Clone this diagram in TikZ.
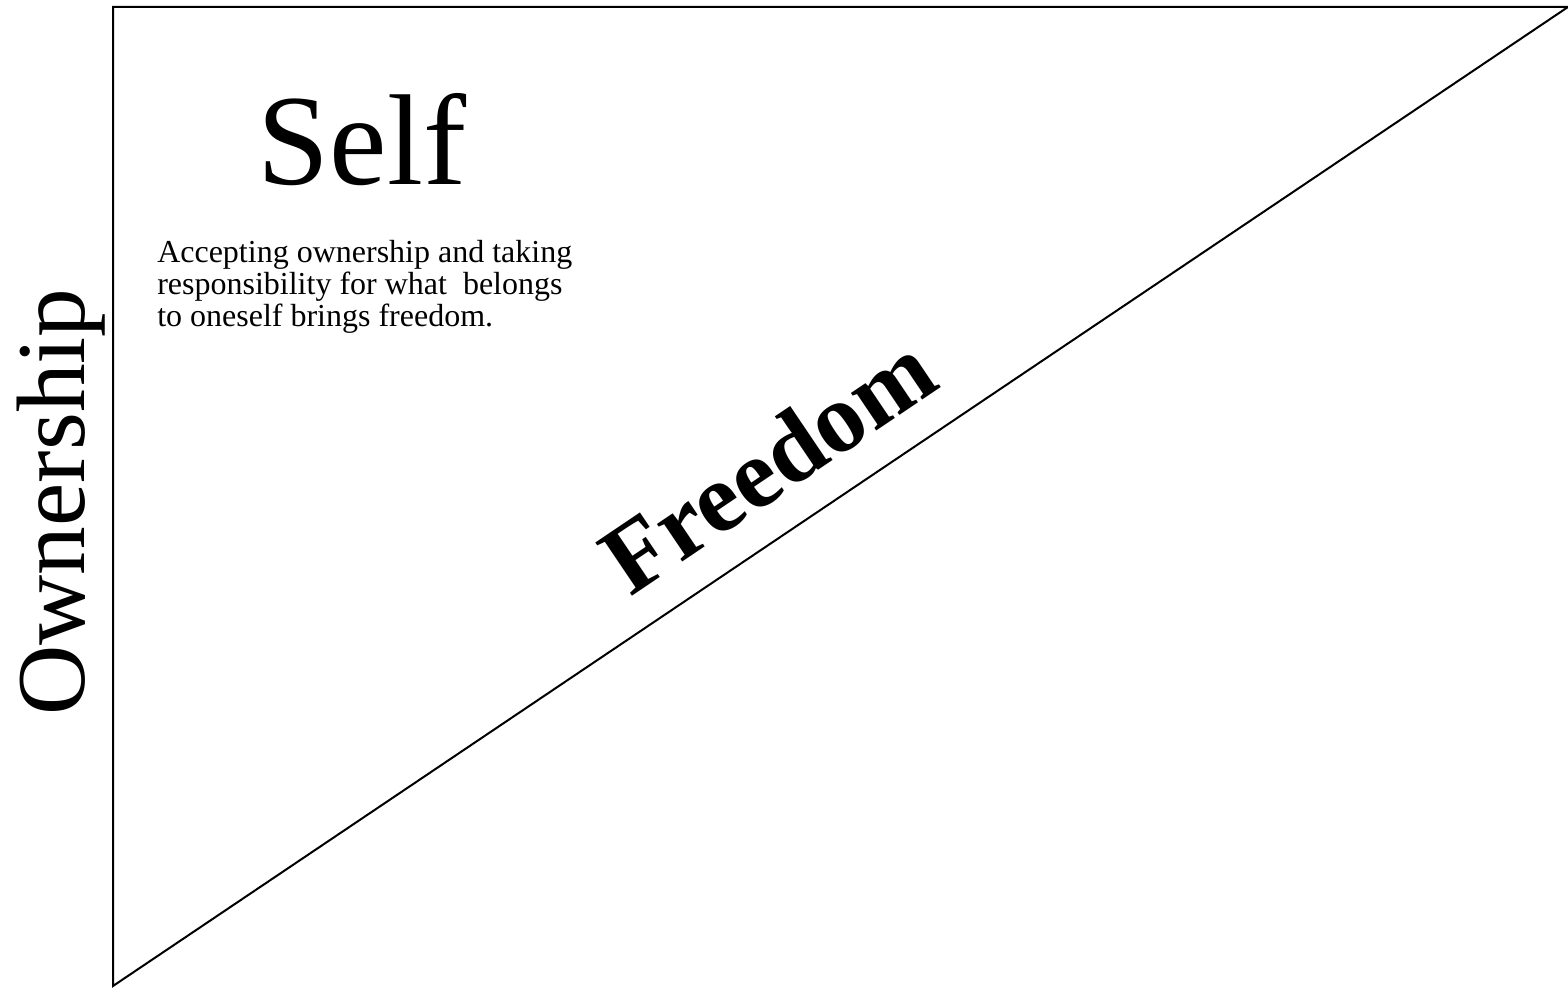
\documentclass[tikz,border=0pt]{standalone}
\usepackage{fontspec}
\setmainfont{Liberation Serif}
\usepackage{tikz}
\usetikzlibrary{positioning}
\tikzset{
  % Big heading
  headlbl/.style={font=\fontsize{97}{116}\selectfont,inner sep=0pt},
  % Side label (vertical)
  sidelbl/.style={font=\fontsize{73}{88}\selectfont,inner sep=0pt},
  % Label along the slope
  diaglbl/.style={font=\fontsize{74}{89}\selectfont\bfseries,inner sep=0pt},
  % Small description text
  desclbl/.style={font=\fontsize{24}{24}\selectfont,align=left,inner sep=0pt},
  % Triangle edges
  edge/.style={line width=1.5pt,line join=miter},
}
\begin{document}
\begin{tikzpicture}[x=0.75pt,y=-0.75pt]
  \useasboundingbox (0,0) rectangle (1568,988);
  \coordinate (tl) at (113,7);
  \coordinate (tr) at (1568,7);
  \coordinate (bl) at (113,986);

  \draw[edge] (tr) -- (tl) -- (bl) -- cycle;

  \node[headlbl] (self) at (362,140) {Self};
  \node[desclbl,anchor=north west] (desc) at (157,240)
    {Accepting ownership and taking\\responsibility for what\ \ belongs\\to oneself brings freedom.};
  \node[sidelbl,rotate=90] (owner) at (61,502) {Ownership};
  \node[diaglbl,rotate=34] (free) at (768,464) {Freedom};
\end{tikzpicture}
\end{document}
